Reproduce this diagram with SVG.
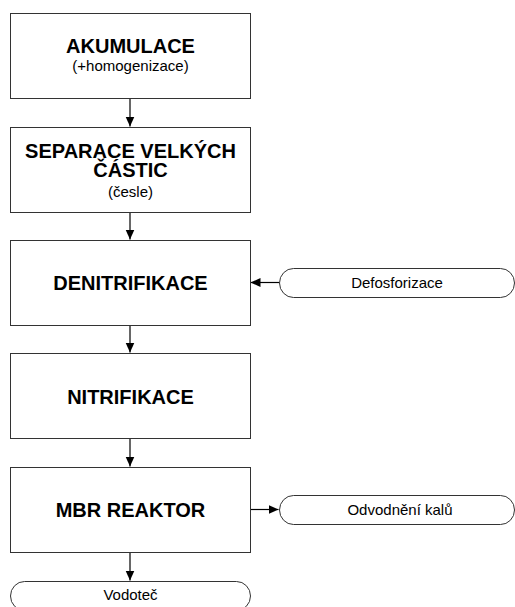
<svg xmlns="http://www.w3.org/2000/svg" width="515" height="607" viewBox="0 0 515 607">
<style>
.box{fill:#fff;stroke:#333;stroke-width:1}
.pill{fill:#fff;stroke:#333;stroke-width:1}
.t{font-family:"Liberation Sans",Arial,sans-serif;font-weight:bold;font-size:20px;fill:#000;text-anchor:middle}
.s{font-family:"Liberation Sans",Arial,sans-serif;font-size:15px;fill:#000;text-anchor:middle}
.c{stroke:#000;stroke-width:1.2;fill:none;marker-end:url(#ah)}
</style>
<defs>
<marker id="ah" markerUnits="userSpaceOnUse" markerWidth="11" markerHeight="10" refX="10" refY="5" orient="auto">
<path d="M0,0.5 L10,5 L0,9.5 Z" fill="#000"/>
</marker>
</defs>
<rect width="515" height="607" fill="#fff"/>
<g id="connectors">
<line class="c" x1="130" y1="98" x2="130" y2="126.5"/>
<line class="c" x1="130" y1="212" x2="130" y2="239.5"/>
<line class="c" x1="130" y1="325" x2="130" y2="352.5"/>
<line class="c" x1="130" y1="438" x2="130" y2="466.5"/>
<line class="c" x1="130" y1="552" x2="130" y2="580.5"/>
<line class="c" x1="279" y1="282.5" x2="250.5" y2="282.5"/>
<line class="c" x1="250" y1="509.5" x2="278.5" y2="509.5"/>
</g>
<g id="akumulace">
<rect class="box" x="10.5" y="13.5" width="240" height="85"/>
<text class="t" x="130.5" y="52.5">AKUMULACE</text>
<text class="s" x="130.5" y="70.5">(+homogenizace)</text>
</g>
<g id="separace">
<rect class="box" x="10.5" y="127.5" width="240" height="85"/>
<text class="t" x="130.5" y="157.5">SEPARACE VELKÝCH</text>
<text class="t" x="130.5" y="177">ČÁSTIC</text>
<text class="s" x="130.5" y="197">(česle)</text>
</g>
<g id="denitrifikace">
<rect class="box" x="10.5" y="240.5" width="240" height="85"/>
<text class="t" x="130.5" y="289.5">DENITRIFIKACE</text>
</g>
<g id="nitrifikace">
<rect class="box" x="10.5" y="353.5" width="240" height="85"/>
<text class="t" x="130.5" y="404">NITRIFIKACE</text>
</g>
<g id="mbr">
<rect class="box" x="10.5" y="467.5" width="240" height="85"/>
<text class="t" x="130.5" y="516.5">MBR REAKTOR</text>
</g>
<g id="defosforizace">
<rect class="pill" x="279.5" y="268.5" width="235" height="29" rx="14" ry="14.5"/>
<text class="s" x="397" y="288">Defosforizace</text>
</g>
<g id="odvodneni">
<rect class="pill" x="279.5" y="495.5" width="235" height="29" rx="14" ry="14.5"/>
<text class="s" x="400" y="514.5">Odvodnění kalů</text>
</g>
<g id="vodotec">
<rect class="pill" x="10.5" y="581.5" width="240" height="29" rx="14" ry="14.5"/>
<text class="s" x="130.5" y="600">Vodoteč</text>
</g>
</svg>
